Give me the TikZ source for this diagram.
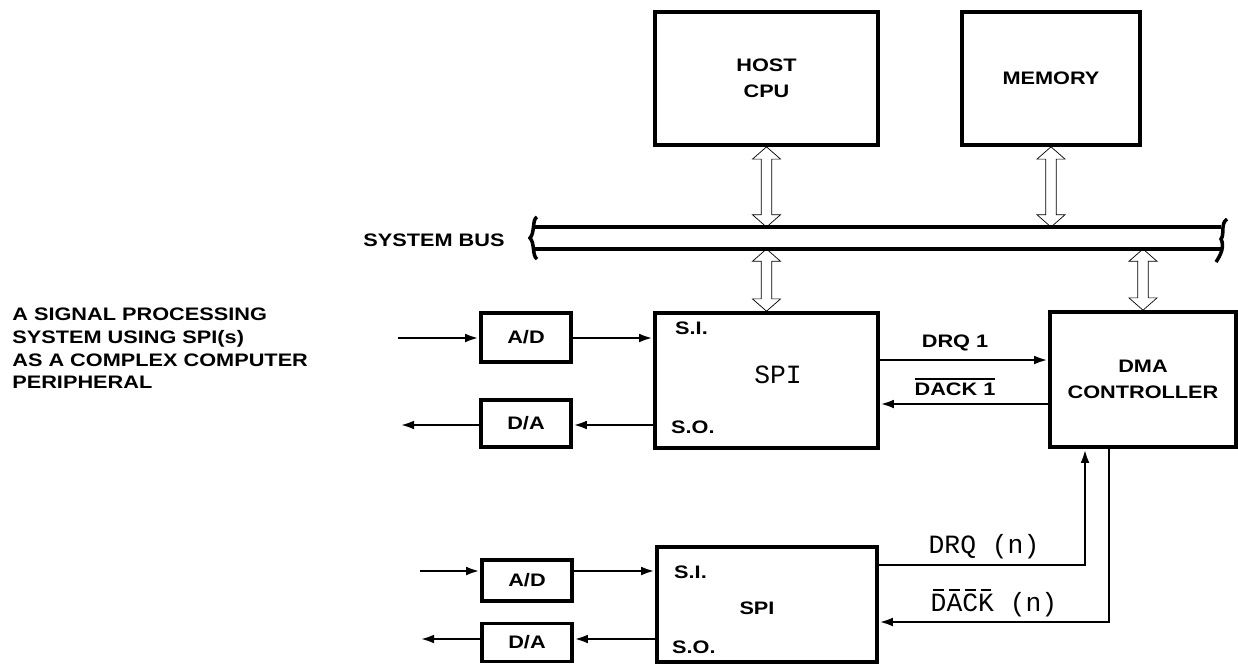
\documentclass[tikz,border=0pt]{standalone}
\usepackage{fontspec}
\setmainfont{Liberation Sans}[FakeStretch=1.2]
\setmonofont{Liberation Mono}
\usetikzlibrary{arrows.meta,calc}

\newcommand\spifont{\fontsize{15}{18}\selectfont\ttfamily}
\newcommand\barover[1]{\setbox0\hbox{#1}\rlap{\rule[\dimexpr\ht0+2pt\relax]{\wd0}{1pt}}\box0\relax}
\newcommand\barltr[1]{\setbox0\hbox{#1}\rlap{\hspace{0.1em}\rule[\dimexpr\ht0+2pt\relax]{\dimexpr\wd0-0.2em\relax}{1pt}}\box0\relax}

\tikzset{
  blk/.style={draw, line width=2.1pt, inner sep=0pt},
  sig/.style={line width=1.6pt, -{Latex[length=8pt,width=5pt]}},
  buswire/.style={line width=2pt},
  busarrow/.style={line width=1.5pt, line join=miter, to path={
      let \p1=(\tikztostart), \p2=(\tikztotarget) in
      (\x1,\y1) -- (\x1-8pt,\y1-7pt) -- (\x1-3pt,\y1-7pt) -- (\x1-3pt,\y2+7pt)
      -- (\x1-8pt,\y2+7pt) -- (\x1,\y2) -- (\x1+8pt,\y2+7pt) -- (\x1+3pt,\y2+7pt)
      -- (\x1+3pt,\y1-7pt) -- (\x1+8pt,\y1-7pt) -- cycle}},
}

\begin{document}
\begin{tikzpicture}[x=0.02cm, y=-0.02cm, font=\fontsize{10.3}{14.5}\selectfont\bfseries]
  \useasboundingbox (0,0) rectangle (1238,664);

  % host side
  \node[blk, minimum width=4.46cm, minimum height=2.66cm, align=center] (host) at (766.5,78.5) {HOST\\CPU};
  \node[blk, minimum width=3.56cm, minimum height=2.66cm] (mem) at (1051,78.5) {MEMORY};

  % system bus
  \coordinate (busT) at (0,227);
  \coordinate (busB) at (0,249);
  \draw[buswire] (535,227) -- (1221,227) (535,249) -- (1221,249);
  \draw[buswire] (537,217) .. controls (532,219) and (535,233) .. (530,238)
                           .. controls (535,243) and (532,256) .. (537,259);
  \draw[buswire] (1227,219) .. controls (1220,224) and (1225,234) .. (1221,239)
                            .. controls (1225,247) and (1220,256) .. (1216,262);
  \node (buslbl) at (434,240) {SYSTEM BUS};

  % first SPI
  \node[blk, minimum width=4.46cm, minimum height=2.7cm] (spiA) at (766.5,380.5) {};
  \node[font=\spifont] (spiAtxt) at (778,375) {SPI};
  \node[anchor=west] (siA) at (669,328) {S.I.};
  \node[anchor=west] (soA) at (665,427) {S.O.};
  \node[blk, minimum width=1.8cm, minimum height=0.98cm] (adA) at (526,337.5) {A/D};
  \node[blk, minimum width=1.8cm, minimum height=0.94cm] (daA) at (526,423.5) {D/A};
  \node[blk, minimum width=3.72cm, minimum height=2.7cm, align=center] (dma) at (1143,379.5) {DMA\\CONTROLLER};

  % n-th SPI
  \node[blk, minimum width=4.4cm, minimum height=2.3cm] (spiB) at (767,604.5) {};
  \node (spiBtxt) at (757,608) {SPI};
  \node[anchor=west] (siB) at (668,572) {S.I.};
  \node[anchor=west] (soB) at (666,647) {S.O.};
  \node[blk, minimum width=1.8cm, minimum height=0.82cm] (adB) at (527,580.5) {A/D};
  \node[blk, minimum width=1.8cm, minimum height=0.76cm] (daB) at (527,642.5) {D/A};

  \node[anchor=north west, inner sep=0pt, align=left, font=\fontsize{10.3}{12.9}\selectfont\bfseries] (caption)
    at (12,308) {A SIGNAL PROCESSING\\SYSTEM USING SPI(s)\\AS A COMPLEX COMPUTER\\PERIPHERAL};

  % bus taps
  \draw (host.south) to[busarrow] (host.south |- busT);
  \draw (mem.south) to[busarrow] (mem.south |- busT);
  \draw (spiA.north |- busB) to[busarrow] (spiA.north);
  \draw (dma.north |- busB) to[busarrow] (dma.north);

  % analog paths
  \coordinate (inA) at (398,338);
  \coordinate (outA) at (400,425);
  \coordinate (inB) at (420,571);
  \coordinate (outB) at (420,639);
  \draw[sig] (inA) -- (adA.west |- inA);
  \draw[sig] (adA.east |- inA) -- (spiA.west |- inA);
  \draw[sig] (spiA.west |- outA) -- (daA.east |- outA);
  \draw[sig] (daA.west |- outA) -- (outA);
  \draw[sig] (inB) -- (adB.west |- inB);
  \draw[sig] (adB.east |- inB) -- (spiB.west |- inB);
  \draw[sig] (spiB.west |- outB) -- (daB.east |- outB);
  \draw[sig] (daB.west |- outB) -- (outB);

  % DMA handshake
  \coordinate (drqA) at (960,360);
  \coordinate (dackA) at (960,404);
  \coordinate (drqB) at (1085,565);
  \coordinate (dackB) at (1109,622);
  \draw[sig] (spiA.east |- drqA) -- (dma.west |- drqA);
  \draw[sig] (dma.west |- dackA) -- (spiA.east |- dackA);
  \draw[sig] (spiB.east |- drqB) -| (dma.south -| drqB);
  \draw[sig] (dma.south -| dackB) |- (spiB.east |- dackB);
  \node (drqAlbl) at (955,343) {DRQ 1};
  \node (dackAlbl) at (955,387) {\barover{DACK 1}};
  \node[font=\spifont] (drqBlbl) at (984,547) {DRQ (n)};
  \node[font=\spifont] (dackBlbl) at (994,603) {\barltr{D}\barltr{A}\barltr{C}\barltr{K} (n)};
\end{tikzpicture}
\end{document}
